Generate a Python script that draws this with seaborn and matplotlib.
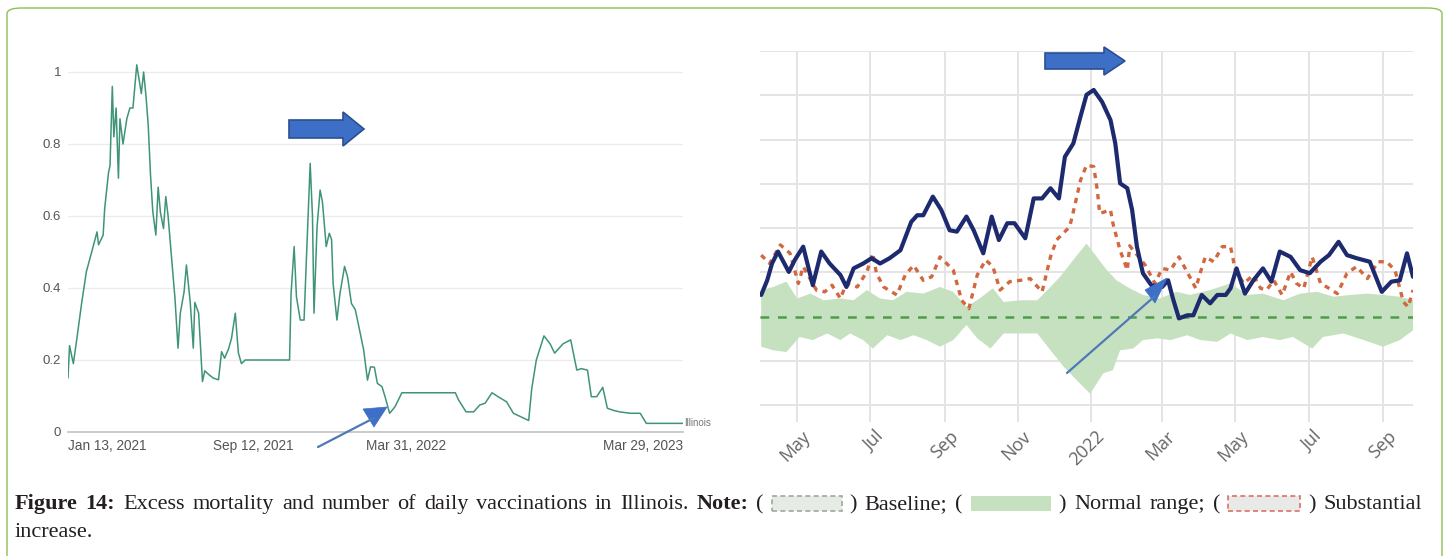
#-- Illinois: vaccinations (left) and excess mortality (right), Figure 14 --
import numpy as np
import pandas as pd
import matplotlib
matplotlib.use("Agg")
import matplotlib.pyplot as plt
import matplotlib.dates as mdates
import matplotlib.transforms as mtransforms
from matplotlib.patches import FancyBboxPatch, Rectangle, Polygon
from matplotlib.ticker import FuncFormatter
import seaborn as sns

sns.set_theme(style='white')
plt.rcParams['font.family'] = ['Open Sans', 'DejaVu Sans']

W, H = 1449, 556

#--left panel: daily vaccinations (days since Jan 13, 2021)--
vax_day = [0, 2, 7, 11, 18, 24, 31, 38, 40, 46, 48, 53, 55, 58, 60, 63, 66, 68, 72, 77,
           81, 85, 90, 93, 96, 99, 102, 105, 108, 111, 115, 118, 121, 125, 128, 131, 136, 140, 144, 147,
           152, 155, 160, 164, 166, 171, 176, 179, 184, 190, 197, 201, 205, 210, 214, 219, 223, 227, 232, 290,
           292, 296, 299, 304, 309, 312, 317, 320, 322, 326, 330, 333, 338, 342, 345, 347, 352, 356, 362, 366,
           371, 376, 380, 387, 392, 396, 401, 405, 411, 415, 421, 428, 437, 507, 511, 521, 531, 539, 546, 555,
           563, 574, 583, 592, 603, 607, 613, 623, 631, 637, 648, 658, 666, 672, 680, 685, 692, 700, 706, 714,
           722, 736, 749, 757, 805]
vax_val = [0.15, 0.24, 0.19, 0.25, 0.36, 0.445, 0.50, 0.556, 0.52, 0.547, 0.62, 0.72, 0.74, 0.96, 0.82, 0.90, 0.705, 0.87, 0.80, 0.87,
           0.90, 0.90, 1.02, 0.98, 0.94, 1.0, 0.935, 0.853, 0.714, 0.612, 0.547, 0.68, 0.61, 0.565, 0.654, 0.60, 0.473, 0.372, 0.233, 0.33,
           0.39, 0.464, 0.36, 0.233, 0.36, 0.33, 0.14, 0.17, 0.16, 0.15, 0.145, 0.223, 0.205, 0.23, 0.26, 0.33, 0.22, 0.19, 0.20, 0.20,
           0.385, 0.515, 0.376, 0.311, 0.311, 0.478, 0.746, 0.60, 0.33, 0.57, 0.672, 0.64, 0.515, 0.552, 0.535, 0.413, 0.311, 0.385, 0.46, 0.43,
           0.357, 0.34, 0.30, 0.228, 0.144, 0.181, 0.18, 0.135, 0.126, 0.098, 0.052, 0.07, 0.109, 0.109, 0.09, 0.056, 0.056, 0.075, 0.08, 0.109,
           0.098, 0.084, 0.052, 0.043, 0.032, 0.12, 0.20, 0.267, 0.245, 0.219, 0.245, 0.256, 0.172, 0.176, 0.172, 0.098, 0.098, 0.124, 0.066, 0.06,
           0.056, 0.052, 0.052, 0.024, 0.024]
vax_tick_day = [0, 242, 442, 805]
vax_tick_lab = ['Jan 13, 2021', 'Sep 12, 2021', 'Mar 31, 2022', 'Mar 29, 2023']
vax_yticks = [0, 0.2, 0.4, 0.6, 0.8, 1]
vax_ylabs = ['0', '0.2', '0.4', '0.6', '0.8', '1']

#--right panel: weekly deaths (days since Mar 31, 2021), arbitrary grid units--
obs_day = [1, 6, 10, 15, 24, 29, 36, 44, 51, 58, 67, 72, 78, 86, 93, 100, 108, 117, 126, 131,
           136, 144, 151, 158, 164, 172, 178, 186, 193, 199, 206, 212, 221, 228, 235, 242, 249, 254, 261, 267,
           272, 278, 285, 292, 296, 300, 306, 310, 314, 319, 326, 335, 340, 344, 349, 356, 361, 368, 375, 381,
           388, 392, 397, 404, 411, 419, 426, 433, 442, 450, 458, 467, 474, 482, 489, 497, 508, 518, 526, 533,
           539, 544]
obs_val = [2.49, 2.82, 3.20, 3.47, 3.01, 3.28, 3.58, 2.71, 3.47, 3.20, 2.94, 2.67, 3.09, 3.20, 3.32, 3.20, 3.32, 3.50, 4.14, 4.29,
           4.29, 4.71, 4.41, 3.95, 3.92, 4.26, 3.95, 3.43, 4.26, 3.73, 4.11, 4.11, 3.77, 4.67, 4.67, 4.90, 4.67, 5.61, 5.91, 6.52,
           7.01, 7.12, 6.85, 6.44, 5.91, 5.01, 4.90, 4.41, 3.58, 2.98, 2.71, 2.67, 2.82, 2.41, 1.96, 2.03, 2.03, 2.49, 2.30, 2.49,
           2.49, 2.64, 3.09, 2.52, 2.82, 3.09, 2.79, 3.47, 3.35, 3.05, 2.98, 3.24, 3.39, 3.69, 3.39, 3.32, 3.24, 2.56, 2.79, 2.82,
           3.43, 2.90]
thr_day = [1, 8, 17, 25, 32, 36, 47, 54, 60, 67, 72, 81, 89, 94, 97, 103, 114, 121, 128, 136,
           143, 150, 161, 168, 174, 181, 188, 194, 200, 208, 217, 225, 235, 242, 247, 251, 258, 262, 267, 272,
           278, 281, 283, 292, 294, 297, 300, 306, 308, 321, 329, 335, 342, 349, 358, 363, 367, 371, 378, 385,
           392, 396, 403, 411, 417, 422, 428, 435, 442, 447, 453, 460, 467, 474, 481, 489, 497, 506, 515, 522,
           529, 536, 540, 544]
thr_val = [3.39, 3.20, 3.62, 3.43, 2.75, 3.13, 2.60, 2.56, 2.71, 2.41, 2.75, 2.67, 3.01, 3.43, 2.98, 2.67, 2.49, 2.94, 3.16, 2.82,
           2.90, 3.35, 3.05, 2.37, 2.18, 2.94, 3.28, 3.13, 2.60, 2.79, 2.82, 2.86, 2.56, 3.35, 3.73, 3.84, 4.03, 4.48, 5.08, 5.42,
           5.39, 4.86, 4.33, 4.41, 4.11, 3.80, 3.50, 3.05, 3.60, 3.16, 2.75, 3.09, 3.05, 3.35, 2.90, 2.64, 3.01, 3.35, 3.24, 3.58,
           3.58, 3.05, 2.75, 2.94, 2.64, 2.60, 2.82, 2.49, 3.01, 2.75, 2.64, 3.35, 2.75, 2.64, 2.52, 2.98, 3.13, 2.86, 3.24, 3.24,
           3.05, 2.33, 2.22, 2.60]
up_day = [1, 11, 22, 31, 42, 53, 67, 78, 89, 100, 111, 122, 136, 150, 161, 172, 183, 194, 203, 217,
          231, 242, 250, 261, 272, 289, 297, 308, 319, 333, 347, 358, 375, 392, 406, 419, 436, 450, 464, 478,
          492, 506, 519, 533, 544]
up_val = [2.60, 2.67, 2.79, 2.41, 2.52, 2.37, 2.41, 2.37, 2.60, 2.41, 2.37, 2.56, 2.52, 2.67, 2.56, 2.22, 2.41, 2.64, 2.33, 2.37,
          2.37, 2.67, 2.90, 3.28, 3.65, 3.05, 2.82, 2.64, 2.49, 2.41, 2.56, 2.49, 2.60, 2.75, 2.49, 2.52, 2.37, 2.52, 2.56, 2.45,
          2.49, 2.52, 2.49, 2.45, 2.37]
lo_day = [1, 11, 22, 33, 44, 56, 67, 75, 86, 94, 106, 117, 128, 139, 150, 161, 172, 181, 192, 203,
          217, 231, 242, 253, 264, 275, 286, 294, 300, 311, 319, 331, 342, 356, 367, 381, 392, 406, 419, 433,
          444, 460, 469, 486, 503, 519, 533, 544]
lo_val = [1.32, 1.24, 1.20, 1.54, 1.47, 1.62, 1.47, 1.62, 1.47, 1.28, 1.58, 1.47, 1.58, 1.47, 1.32, 1.47, 1.81, 1.51, 1.28, 1.62,
          1.62, 1.62, 1.24, 0.87, 0.56, 0.26, 0.72, 0.79, 1.24, 1.28, 1.47, 1.51, 1.47, 1.58, 1.47, 1.43, 1.62, 1.47, 1.54, 1.47,
          1.54, 1.28, 1.54, 1.62, 1.47, 1.32, 1.47, 1.69]
baseline = 2.0

start_l = pd.Timestamp('2021-01-13')
start_r = pd.Timestamp('2021-03-31')
to_dates = lambda s, d: s + pd.to_timedelta(d, unit='D')

def fx(x): return x / W
def fy(y): return 1 - y / H

fig = plt.figure(figsize=(W / 100, H / 100), dpi=100)
fig.patch.set_facecolor('white')

# outer frame
fig.patches.append(FancyBboxPatch((fx(7), fy(590)), fx(1442) - fx(7), fy(8) - fy(590),
                                  boxstyle='round,pad=0,rounding_size=0.01', transform=fig.transFigure,
                                  facecolor='none', edgecolor='#8cc152', lw=1.0))

#--left panel--
axL = fig.add_axes([fx(68), fy(432), (683 - 68) / W, (432 - 54) / H])
df_l = pd.DataFrame({'date': to_dates(start_l, vax_day), 'v': vax_val})
sns.lineplot(data=df_l, x='date', y='v', ax=axL, color='#3f9478', lw=1.1)
axL.set_xlim(start_l, to_dates(start_l, 805))
axL.set_ylim(0, 1.05)
axL.set_yticks(vax_yticks)
axL.set_yticklabels(vax_ylabs, family='Liberation Sans', fontsize=9.5, color='#555555')
axL.set_xticks(to_dates(start_l, vax_tick_day))
axL.set_xticklabels(vax_tick_lab, family='Liberation Sans', fontsize=9.8, color='#555555')
xt = axL.get_xticklabels()
xt[0].set_ha('left')
xt[-1].set_ha('right')
axL.tick_params(axis='both', length=0, pad=5)
axL.grid(axis='y', color='#ececec', lw=1)
axL.set_xlabel('')
axL.set_ylabel('')
for s in ['top', 'right', 'left']:
    axL.spines[s].set_visible(False)
axL.spines['bottom'].set_color('#c4c4c4')
axL.text(to_dates(start_l, 807), vax_val[-1], 'Illinois', fontsize=7, color='#777777',
         family='Liberation Sans', va='center', ha='left', clip_on=False)

#--right panel--
axR = fig.add_axes([fx(760), fy(422), (1413 - 760) / W, (422 - 51) / H])
up_d = mdates.date2num(to_dates(start_r, up_day))
lo_d = mdates.date2num(to_dates(start_r, lo_day))
axR.fill(np.concatenate([up_d, lo_d[::-1]]), np.concatenate([up_val, lo_val[::-1]]),
         color='#c6e1c0', lw=0, zorder=2)
axR.axhline(baseline, color='#4e9d4a', lw=1.8, ls=(0, (3.5, 3.5)), zorder=3)
df_t = pd.DataFrame({'date': to_dates(start_r, thr_day), 'v': thr_val})
df_o = pd.DataFrame({'date': to_dates(start_r, obs_day), 'v': obs_val})
sns.lineplot(data=df_t, x='date', y='v', ax=axR, color='#d1683f', lw=2.4, zorder=4)
axR.lines[-1].set_linestyle((0, (1.6, 1.6)))
sns.lineplot(data=df_o, x='date', y='v', ax=axR, color='#1d2b6e', lw=3.0, zorder=5)
axR.set_xlim(start_r, to_dates(start_r, 544))
axR.set_ylim(-0.38, 8.0)
axR.set_yticks(range(0, 9))
axR.set_yticklabels([])
axR.xaxis.set_major_locator(mdates.MonthLocator(bymonth=(1, 3, 5, 7, 9, 11)))
axR.xaxis.set_major_formatter(FuncFormatter(
    lambda x, p: mdates.num2date(x).strftime('%Y' if mdates.num2date(x).month == 1 else '%b')))
axR.tick_params(axis='both', length=0)
axR.tick_params(axis='x', pad=4, labelsize=13, labelcolor='#666666')
shift = mtransforms.ScaledTranslation(4 / 100, 0, fig.dpi_scale_trans)
for lab in axR.get_xticklabels():
    lab.set_rotation(45)
    lab.set_ha('right')
    lab.set_rotation_mode('anchor')
    lab.set_transform(lab.get_transform() + shift)
axR.grid(True, color='#e4e4e4', lw=1.4)
axR.set_axisbelow(True)
axR.set_xlabel('')
axR.set_ylabel('')
for s in axR.spines.values():
    s.set_visible(False)

#--annotation arrows (figure pixels)--
arrow_fc, arrow_ec = '#3e6fc7', '#2b4f92'
def block_arrow(x0, x1, xt, ym, sh, hh):
    pts = [(x0, ym - sh), (x1, ym - sh), (x1, ym - hh), (xt, ym), (x1, ym + hh), (x1, ym + sh), (x0, ym + sh)]
    fig.patches.append(Polygon([(fx(a), fy(b)) for a, b in pts], closed=True, transform=fig.transFigure,
                               facecolor=arrow_fc, edgecolor=arrow_ec, lw=1.2))
block_arrow(289, 343, 364, 129, 9, 17)
block_arrow(1045, 1104, 1125, 61, 8, 14)

def thin_arrow(p0, p1, tri):
    fig.lines.append(plt.Line2D([fx(p0[0]), fx(p1[0])], [fy(p0[1]), fy(p1[1])], transform=fig.transFigure,
                                color='#4f79b6', lw=1.6))
    fig.patches.append(Polygon([(fx(a), fy(b)) for a, b in tri], closed=True, transform=fig.transFigure,
                               facecolor=arrow_fc, edgecolor=arrow_fc, lw=0.5))
thin_arrow((318, 447), (374, 418), [(363, 409), (387, 407), (374, 427)])
thin_arrow((1067, 373), (1155, 296), [(1145, 290), (1167, 278), (1155, 303)])

#--caption (justified first line) with inline legend swatches--
renderer = fig.canvas.get_renderer()
CAP = 16
cap_kw = dict(family='Liberation Serif', fontsize=CAP, color='#231f20', va='baseline', ha='left')
swatches = {
    'SW1': (70, '#e6ebe6', '#9aab9a', (0, (3, 2))),
    'SW2': (80, '#c6e1c0', 'none', '-'),
    'SW3': (72, '#e9e9e9', '#d9735e', (0, (3, 2))),
}
line1 = [('Figure', True), ('14:', True), ('Excess', False), ('mortality', False), ('and', False),
         ('number', False), ('of', False), ('daily', False), ('vaccinations', False), ('in', False),
         ('Illinois.', False), ('Note:', True), ('(', False), ('SW1', False), (')', False), ('Baseline;', False),
         ('(', False), ('SW2', False), (')', False), ('Normal', False), ('range;', False), ('(', False),
         ('SW3', False), (')', False), ('Substantial', False)]

y1, x_left, x_right = 509, 15, 1422
items = []
for word, bold in line1:
    if word in swatches:
        items.append((word, bold, None, swatches[word][0]))
    else:
        t = fig.text(0, 0, word, fontweight='bold' if bold else 'normal', **cap_kw)
        items.append((word, bold, t, t.get_window_extent(renderer).width))
gap = (x_right - x_left - sum(it[3] for it in items)) / (len(items) - 1)
x = x_left
for word, bold, t, w in items:
    if t is None:
        _, fc, ec, ls = swatches[word]
        fig.patches.append(Rectangle((fx(x), fy(y1 + 2)), w / W, 15 / H, transform=fig.transFigure,
                                     facecolor=fc, edgecolor=ec, lw=1.2, ls=ls))
    else:
        t.set_position((fx(x), fy(y1)))
    x += w + gap
fig.text(fx(x_left), fy(537), 'increase.', **cap_kw)

fig.savefig('out.png', dpi=100)
